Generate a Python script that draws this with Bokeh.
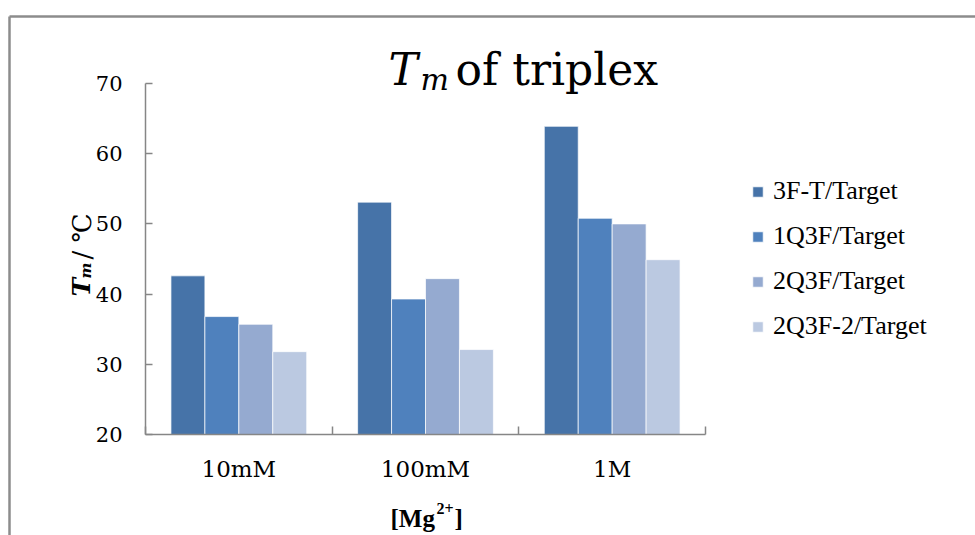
import math

from bokeh.embed import file_html
from bokeh.models import (ColumnDataSource, FixedTicker, Label, Legend, LegendItem,
                          LinearAxis, Range1d)
from bokeh.plotting import figure
from bokeh.resources import INLINE
from bokeh.transform import dodge

# Melting temperatures of the triplexes at three Mg2+ concentrations
concentrations = ["10mM", "100mM", "1M"]
series_names = ["3F-T/Target", "1Q3F/Target", "2Q3F/Target", "2Q3F-2/Target"]
tm_3ft = [42.6, 53.1, 63.9]
tm_1q3f = [36.8, 39.3, 50.8]
tm_2q3f = [35.7, 42.2, 50.0]
tm_2q3f_2 = [31.8, 32.1, 44.9]
y_ticks = [20, 30, 40, 50, 60, 70]

colors = ["#4673A8", "#4F81BD", "#95AAD0", "#BBC9E1"]
AXIS_GREY = "#868686"
FRAME_GREY = "#8c8c8c"
SERIF = "DejaVu Serif"
TIMES = "Liberation Serif"

W, H = 975, 535
# plot-area edges on the page
FX0, FX1, FY0, FY1 = 145, 705, 83, 434

# each concentration occupies one unit slot on the x scale; groups sit at slot centres
n = len(concentrations)
slot_centres = [i + 0.5 for i in range(n)]
slot_edges = list(range(n + 1))
x_per_px = n / (FX1 - FX0)

source = ColumnDataSource(dict(
    xc=slot_centres, s0=tm_3ft, s1=tm_1q3f, s2=tm_2q3f, s3=tm_2q3f_2,
))

# ---------------------------------------------------------------- backdrop
# full-canvas layer (1 data unit = 1 px, y downward) for the frame and titles
bg = figure(
    width=W, height=H, x_range=Range1d(0, W), y_range=Range1d(H, 0),
    x_axis_location=None, y_axis_location=None,
    output_backend="svg", toolbar_location=None,
    min_border=0, min_border_left=0, min_border_right=0,
    min_border_top=0, min_border_bottom=0,
)
bg.outline_line_color = None
bg.grid.visible = False
bg.background_fill_color = "white"
bg.border_fill_color = "white"
bg.segment(x0=[9, 9], y0=[16, 16], x1=[9, W], y1=[H, 16],
           line_color=FRAME_GREY, line_width=2.5)


def put(text, x, y, size, style="normal", font=SERIF, angle=0.0):
    bg.add_layout(Label(
        x=x, y=y, text=text,
        text_font=font, text_font_size=size, text_font_style=style,
        text_color="black", text_align="left", text_baseline="alphabetic",
        angle=angle,
    ))


# title: T_m of triplex
put("T", 388, 69, "44px", "italic")
put("m", 420, 79, "30px", "italic")
put("of triplex", 455, 69, "44px")

# y-axis title: T_m / ℃ (rotated)
put("T", 81, 296, "25px", "bold italic", angle=math.pi / 2)
put("m", 85, 278, "15px", "bold italic", angle=math.pi / 2)
put("/ ℃", 81, 259, "26px", angle=math.pi / 2)

# x-axis title: [Mg2+]
put("[Mg", 390, 518, "25px", "bold", font=TIMES)
put("2+", 436, 508, "16px", "bold", font=TIMES)
put("]", 454, 518, "25px", "bold", font=TIMES)

# ---------------------------------------------------------------- chart
# transparent layer laid over the backdrop; its frame runs on to the right
# edge so the legend can sit inside it, the x axis is bounded to the groups
p = figure(
    width=W, height=H,
    x_range=Range1d(0, (W - FX0) * x_per_px),
    y_range=Range1d(20, 70),
    x_axis_location=None, y_axis_location="left",
    output_backend="svg", toolbar_location=None,
    min_border_left=FX0, min_border_right=0,
    min_border_top=FY0, min_border_bottom=H - FY1,
)
p.margin = (-H, 0, 0, 0)
p.outline_line_color = None
p.grid.visible = False
p.background_fill_alpha = 0
p.border_fill_alpha = 0

ya = p.yaxis[0]
ya.ticker = FixedTicker(ticks=y_ticks)
ya.minor_tick_line_color = None
ya.major_tick_in = 7
ya.major_tick_out = 0
ya.axis_line_color = AXIS_GREY
ya.axis_line_width = 1.5
ya.major_tick_line_color = AXIS_GREY
ya.major_tick_line_width = 1.5
ya.major_label_text_font = SERIF
ya.major_label_text_font_size = "21px"
ya.major_label_text_color = "black"
ya.major_label_standoff = 23

# category axis: labels at group centres, short ticks between groups
xa = LinearAxis(
    ticker=FixedTicker(ticks=slot_centres, minor_ticks=slot_edges),
    bounds=(0, n),
    major_label_overrides={c: name for c, name in zip(slot_centres, concentrations)},
    major_tick_line_color=None, major_tick_in=0, major_tick_out=0,
    minor_tick_in=8, minor_tick_out=0,
    minor_tick_line_color=AXIS_GREY, minor_tick_line_width=1.5,
    axis_line_color=AXIS_GREY, axis_line_width=1.5,
    major_label_text_font=SERIF, major_label_text_font_size="23px",
    major_label_text_color="black", major_label_standoff=21,
)
p.add_layout(xa, "below")

# grouped bars, Excel-like gap of 150 % of a bar width
bar_w = 1 / 5.5
renderers = []
for i, (col, c) in enumerate(zip(["s0", "s1", "s2", "s3"], colors)):
    r = p.vbar(
        x=dodge("xc", (i - 1.5) * bar_w),
        top=col, bottom=20, width=bar_w, source=source,
        fill_color=c, line_color="white", line_alpha=0.7, line_width=1,
    )
    renderers.append(r)

legend = Legend(
    items=[LegendItem(label=s, renderers=[r]) for s, r in zip(series_names, renderers)],
    location=(751 - FX0, 93), margin=0, padding=10,
    border_line_color=None, background_fill_alpha=0,
    label_text_font=TIMES, label_text_font_size="26px", label_text_color="black",
    glyph_width=13, glyph_height=13, label_standoff=9, spacing=15, label_height=30,
)
p.add_layout(legend)

# two independent roots: backdrop first, chart overlaid on it
open("out.html", "w").write(file_html([bg, p], INLINE))
